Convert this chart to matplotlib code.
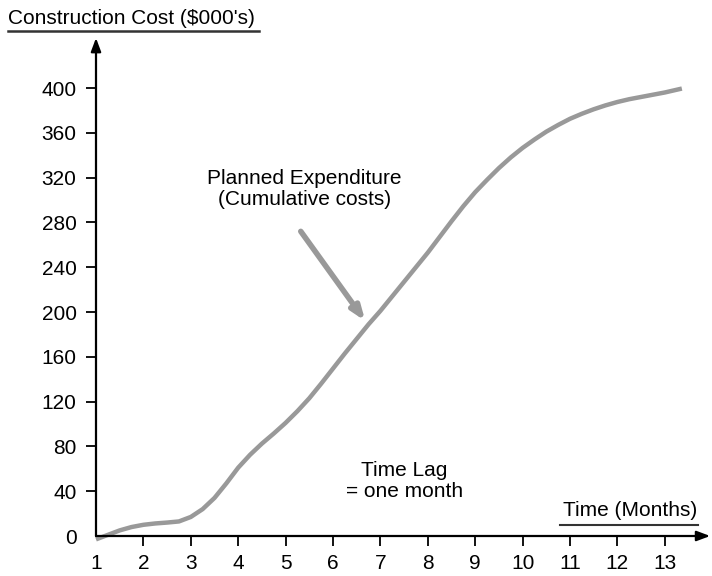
import matplotlib
matplotlib.use('Agg')
from matplotlib import pyplot as plt
from matplotlib.lines import Line2D
import numpy as np

plt.rcParams['font.family'] = ['Liberation Sans', 'DejaVu Sans']

# planned expenditure ($000's)
months = [1.0, 1.25, 1.5, 1.75, 2.0, 2.25, 2.5, 2.75, 3.0, 3.25, 3.5, 3.75,
          4.0, 4.25, 4.5, 4.75, 5.0, 5.25, 5.5, 5.75, 6.0, 6.25, 6.5, 6.75,
          7.0, 7.25, 7.5, 7.75, 8.0, 8.25, 8.5, 8.75, 9.0, 9.25, 9.5, 9.75,
          10.0, 10.25, 10.5, 10.75, 11.0, 11.25, 11.5, 11.75, 12.0, 12.25,
          12.5, 12.75, 13.0, 13.36]
cost = [-3, 1, 5, 8, 10, 11.2, 12, 13, 17, 24, 34, 47,
        61, 72.5, 82.5, 91.5, 101, 111.5, 123, 136, 149.5, 163, 176, 189,
        201, 214, 227, 240, 253, 267, 281, 294.5, 307, 318, 328.5, 338,
        346.5, 354, 361, 367, 372.5, 377, 381, 384.5, 387.5, 390,
        392, 394, 396, 399.5]
xticks = list(range(1, 14))
yticks = list(range(0, 401, 40))

W, H = 712, 576
fig = plt.figure(figsize=(W / 100, H / 100), dpi=100)
# axes: x=1 at px 96, y=0 at px 536
x0, x1 = 96, 712
y0, y1 = 536, 38
ax = fig.add_axes([x0 / W, 1 - y0 / H, (x1 - x0) / W, (y0 - y1) / H])
px_per_month = 47.4
px_per_unit = 44.8 / 40
ax.set_xlim(1, 1 + (x1 - x0) / px_per_month)
ax.set_ylim(0, (y0 - y1) / px_per_unit)

for s in ax.spines.values():
    s.set_visible(False)

ax.plot(months, cost, color='#999999', lw=3.2, solid_capstyle='butt',
        solid_joinstyle='round', clip_on=False)

# axes with arrows
ax.annotate('', xy=(0, 1), xytext=(0, 0), xycoords='axes fraction',
            arrowprops=dict(arrowstyle='-|>,head_length=0.8,head_width=0.3', color='black', lw=1.6,
                            shrinkA=0, shrinkB=0))
ax.annotate('', xy=(0.997, 0), xytext=(0, 0), xycoords='axes fraction',
            arrowprops=dict(arrowstyle='-|>,head_length=0.8,head_width=0.3', color='black', lw=1.6,
                            shrinkA=0, shrinkB=0))

ax.set_xticks(xticks)
ax.set_yticks(yticks)
ax.tick_params(axis='both', labelsize=15, width=1.3, length=7, color='black', pad=7)
ax.tick_params(axis='x', pad=6)
ax.set_xticklabels([str(t) for t in xticks])
ax.set_yticklabels([str(t) for t in yticks])
xt = ax.get_xaxis().get_major_ticks()
xt[0].tick1line.set_visible(False)
yt = ax.get_yaxis().get_major_ticks()
yt[0].tick1line.set_visible(False)

# axis titles with underlines
fig.text(8 / W, 1 - 24 / H, "Construction Cost ($000's)", fontsize=15, ha='left', va='baseline')
fig.add_artist(Line2D([8 / W, 259 / W], [1 - 31 / H, 1 - 31 / H], color='#333333', lw=1.8))
fig.text(697 / W, 1 - 516 / H, 'Time (Months)', fontsize=15, ha='right', va='baseline')
fig.add_artist(Line2D([560 / W, 698 / W], [1 - 525 / H, 1 - 525 / H], color='#333333', lw=1.5))

# annotations
ax.text(5.4, 310, 'Planned Expenditure\n(Cumulative costs)', fontsize=15, ha='center', va='center',
        linespacing=1.1)
ax.annotate('', xy=(6.68, 192), xytext=(5.32, 272),
            arrowprops=dict(arrowstyle='-|>,head_length=0.8,head_width=0.3', color='#999999', lw=4,
                            shrinkA=0, shrinkB=0))
ax.text(7.5, 49, 'Time Lag\n= one month', fontsize=15, ha='center', va='center', linespacing=1.1)

fig.savefig('out.png', dpi=100)
